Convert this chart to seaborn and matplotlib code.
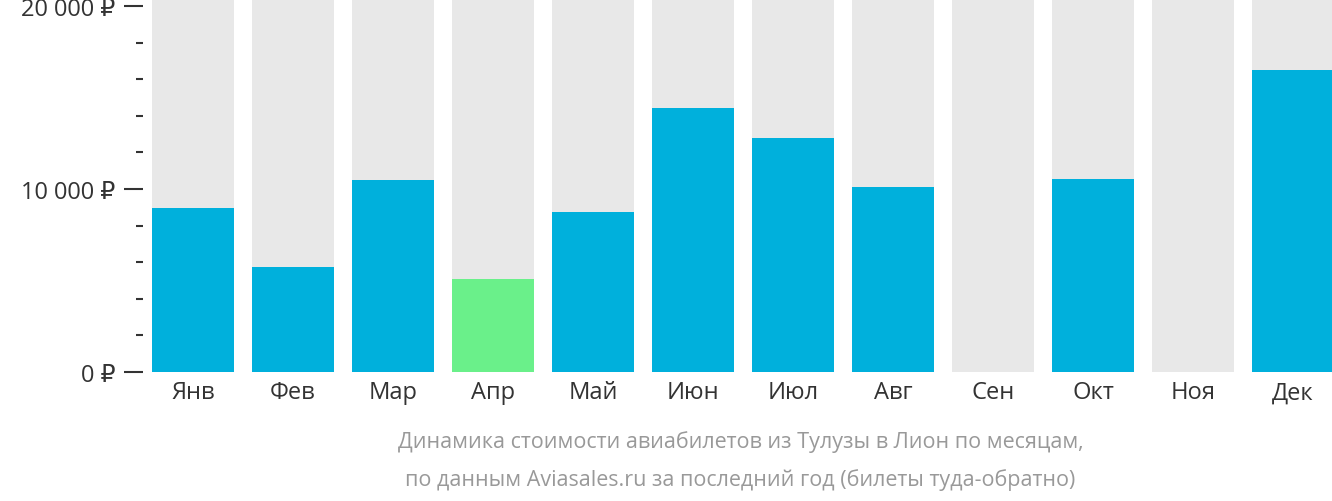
import matplotlib
matplotlib.use("Agg")
import matplotlib.pyplot as plt
import seaborn as sns
import pandas as pd
from matplotlib.ticker import MultipleLocator, FuncFormatter

months = ["Янв","Фев","Мар","Апр","Май","Июн","Июл","Авг","Сен","Окт","Ноя","Дек"]
prices = [8950, 5740, 10490, 5080, 8740, 14430, 12790, 10110, 0, 10550, 0, 16500]
highlight = "Апр"
ymax = 20380

plt.rcParams["font.family"] = ["Open Sans", "DejaVu Sans"]
fig = plt.figure(figsize=(13.32, 5.02), dpi=100)
ax = fig.add_axes([143/1332, 129/502, 1200/1332, 373/502])

df = pd.DataFrame({"m": months, "p": prices, "bg": [ymax]*12})
sns.barplot(data=df, x="m", y="bg", color="#e8e8e8", width=0.82, ax=ax, saturation=1)
colors = ["#6af08a" if m == highlight else "#00b0dc" for m in months]
sns.barplot(data=df, x="m", y="p", hue="m", palette=colors, legend=False, width=0.82, ax=ax, saturation=1)

ax.set_ylim(0, ymax)
ax.set_xlim(-0.5, 11.5)
ax.yaxis.set_major_locator(MultipleLocator(10000))
ax.yaxis.set_minor_locator(MultipleLocator(2000))
ax.yaxis.set_major_formatter(FuncFormatter(lambda v, _: f"{int(v):,}".replace(",", " ") + " ₽"))
ax.tick_params(axis="y", which="major", length=14, width=1.5, color="#333333", labelsize=17, labelcolor="#333333", pad=6)
ax.tick_params(axis="y", which="minor", length=5, width=1.5, color="#333333")
ax.tick_params(axis="x", length=0, labelsize=17, labelcolor="#333333", pad=6)
ax.set_xlabel(""); ax.set_ylabel("")
for s in ax.spines.values():
    s.set_visible(False)

fig.text(0.556, 60/502, "Динамика стоимости авиабилетов из Тулузы в Лион по месяцам,", ha="center", va="center", fontsize=15.5, color="#999999")
fig.text(0.556, 22/502, "по данным Aviasales.ru за последний год (билеты туда-обратно)", ha="center", va="center", fontsize=15.5, color="#999999")

fig.savefig("out.png", dpi=100)
